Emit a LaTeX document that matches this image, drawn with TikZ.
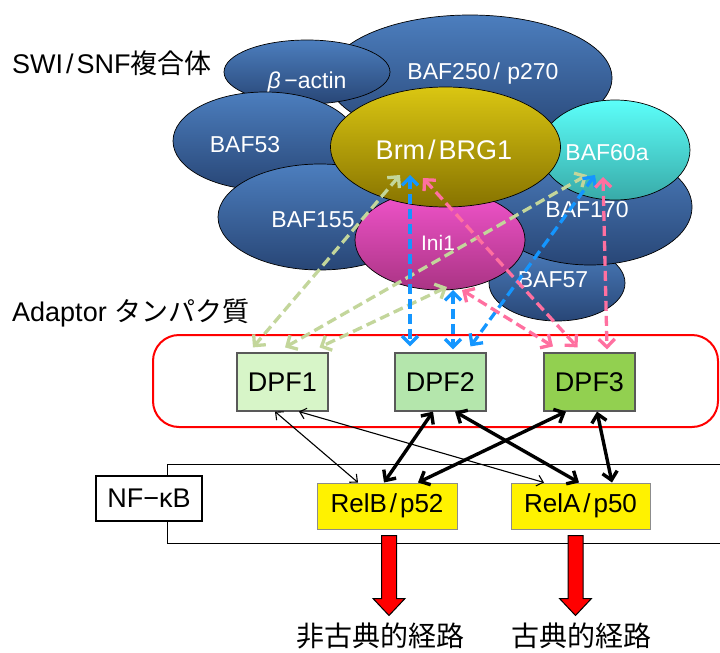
\documentclass[tikz,border=0pt]{standalone}
\usepackage{fontspec}
\setmainfont{Liberation Sans}
\newfontfamily\jpfont{Noto Sans CJK JP}
\usetikzlibrary{calc,arrows.meta,shapes.geometric}
\definecolor{bafTop}{RGB}{76,126,190}
\definecolor{bafBot}{RGB}{40,70,118}
\definecolor{brmTop}{RGB}{218,198,18}
\definecolor{brmBot}{RGB}{135,115,0}
\definecolor{iniTop}{RGB}{242,84,204}
\definecolor{iniBot}{RGB}{170,52,132}
\definecolor{cyanTop}{RGB}{92,255,250}
\definecolor{cyanBot}{RGB}{56,170,168}
\definecolor{dashGreen}{RGB}{195,214,155}
\definecolor{dashBlue}{RGB}{20,150,255}
\definecolor{dashPink}{RGB}{255,112,160}
\definecolor{dpfOne}{RGB}{215,245,200}
\definecolor{dpfTwo}{RGB}{180,230,172}
\definecolor{dpfThree}{RGB}{146,208,80}
\def\slashsp{\kern3pt/\kern3pt}
\tikzset{
	sub/.style={ellipse, draw=black, line width=0.7pt, inner sep=0pt, top color=bafTop, bottom color=bafBot},
	sublabel/.style={text=white, inner sep=0pt, font=\fontsize{23}{23}\selectfont},
	dpfbox/.style={draw=black!65, line width=1.2pt, minimum width=91pt, minimum height=58pt, inner sep=0pt, font=\fontsize{27}{27}\selectfont},
	relbox/.style={draw=black!45, line width=1pt, fill=yellow, minimum width=140pt, minimum height=46pt, inner sep=0pt, font=\fontsize{26}{26}\selectfont},
	bind/.style={dash pattern=on 10pt off 5pt, line width=3.3pt, {Straight Barb[length=8pt,width=16pt]}-{Straight Barb[length=8pt,width=16pt]}},
	thinarr/.style={line width=1.1pt, {Straight Barb[length=6pt,width=11pt]}-{Straight Barb[length=6pt,width=11pt]}},
	thickarr/.style={line width=3.4pt, {Straight Barb[length=8pt,width=15pt]}-{Straight Barb[length=8pt,width=15pt]}},
	blockarr/.style={draw=black, line width=1pt, fill=red},
}
\begin{document}
\begin{tikzpicture}[x=1pt, y=-1pt]
			%%%%% START %%%%%
			\fill[white] (0,0) rectangle (720,653);
			\useasboundingbox (0,0) rectangle (720,653);
			
			\node[anchor=west, inner sep=0pt, font=\fontsize{27}{27}\selectfont] (swisnf) at (12,63) {SWI\slashsp SNF{\jpfont 複合体}};
			\node[anchor=west, inner sep=0pt, font=\fontsize{27}{27}\selectfont] (adaptor) at (12,313) {Adaptor {\jpfont タンパク質}};
			
			\node[sub, minimum width=284pt, minimum height=126pt] (baf250) at (470,78) {};
			\node[sublabel] (baf250lbl) at (483,74) {BAF250\slashsp\kern-2pt\ p270};
			\node[sub, minimum width=166pt, minimum height=64pt] (bactin) at (307,72) {};
			\node[sublabel] (bactinlbl) at (307,83) {{\itshape β}\,−actin};
			\node[sub, minimum width=184pt, minimum height=98pt] (baf53) at (265,141) {};
			\node[sublabel] (baf53lbl) at (245,145) {BAF53};
			\node[sub, minimum width=204pt, minimum height=106pt] (baf155) at (320,217) {};
			\node[sublabel] (baf155lbl) at (313,220) {BAF155};
			\node[sub, minimum width=136pt, minimum height=76pt] (baf57) at (557,283) {};
			\node[sublabel] (baf57lbl) at (553,280) {BAF57};
			\node[sub, minimum width=204pt, minimum height=116pt] (baf170) at (590,207) {};
			\node[sublabel] (baf170lbl) at (587,210) {BAF170};
			\node[sub, top color=iniTop, bottom color=iniBot, minimum width=170pt, minimum height=100pt] (ini1) at (440,240) {};
			\node[sublabel, font=\fontsize{21}{21}\selectfont] (ini1lbl) at (438,243) {Ini1};
			\node[sub, top color=cyanTop, bottom color=cyanBot, minimum width=150pt, minimum height=100pt] (baf60a) at (615,150) {};
			\node[sublabel] (baf60albl) at (607,153) {BAF60a};
			\node[sub, top color=brmTop, bottom color=brmBot, minimum width=230pt, minimum height=120pt] (brm) at (445.5,147) {};
			\node[sublabel, font=\fontsize{27}{27}\selectfont] (brmlbl) at (444,150) {Brm\slashsp BRG1};
			
			\draw[red, line width=2pt, rounded corners=26pt] (153,335) rectangle (718,427);
			\node[dpfbox, fill=dpfOne] (dpf1) at (282.5,382) {DPF1};
			\node[dpfbox, fill=dpfTwo] (dpf2) at (440.5,382) {DPF2};
			\node[dpfbox, fill=dpfThree] (dpf3) at (589.5,382) {DPF3};
			
			\draw[line width=0.9pt] (167,464) rectangle (740,543);
			\node[draw=black, line width=2.6pt, fill=white, minimum width=106pt, minimum height=45pt, inner sep=0pt, font=\fontsize{27}{27}\selectfont] (nfkb) at (149,498.5) {NF−κB};
			\node[relbox] (relB) at (387,506) {RelB\slashsp p52};
			\node[relbox, minimum width=139pt] (relA) at (580.5,506) {RelA\slashsp p50};
			
			\draw[bind, dashGreen] ($(brm)+(-45.5,28)$) -- ($(dpf1.north)+(-29.5,-5)$);
			\draw[bind, dashGreen] ($(baf60a)+(-28,25)$) -- ($(dpf1.north)+(2.5,-5)$);
			\draw[bind, dashGreen] ($(ini1)+(7,47)$) -- ($(dpf1.north)+(37,-5)$);
			\draw[bind, dashBlue] ($(brm)+(-35.5,28)$) -- ($(dpf2.north)+(-30.5,-6)$);
			\draw[bind, dashBlue] ($(ini1)+(13,50)$) -- ($(dpf2.north)+(12.5,-3)$);
			\draw[bind, dashBlue] ($(baf60a)+(-20,25)$) -- ($(dpf2.north)+(30,-6)$);
			\draw[bind, dashPink] ($(brm)+(-22.5,31)$) -- ($(dpf3.north)+(-12,-5)$);
			\draw[bind, dashPink] ($(ini1)+(22,50)$) -- ($(dpf3.north)+(-36.5,-6)$);
			\draw[bind, dashPink] ($(baf60a)+(-12,27)$) -- ($(dpf3.north)+(17.5,-3)$);
			
			\draw[thinarr] ($(dpf1.south)+(-7.5,0)$) -- ($(relB.north)+(-29,0)$);
			\draw[thinarr] ($(dpf1.south)+(16.5,0)$) -- ($(relA.north)+(-36.5,0)$);
			\draw[thickarr] ($(dpf2.south)+(-7.5,0)$) -- ($(relB.north)+(-3,0)$);
			\draw[thickarr] ($(dpf2.south)+(14.5,0)$) -- ($(relA.north)+(-1.5,0)$);
			\draw[thickarr] ($(dpf3.south)+(-23.5,0)$) -- ($(relB.north)+(31,0)$);
			\draw[thickarr] ($(dpf3.south)+(7.5,0)$) -- ($(relA.north)+(31.5,0)$);
			
			\draw[blockarr] ($(relB.south)+(2,6)$) ++(-7.5,0) -- ++(15,0) -- ++(0,63) -- ++(8.5,0) -- ++(-16,17) -- ++(-16,-17) -- ++(8.5,0) -- cycle;
			\draw[blockarr] ($(relA.south)+(-5,6)$) ++(-7.5,0) -- ++(15,0) -- ++(0,63) -- ++(8.5,0) -- ++(-16,17) -- ++(-16,-17) -- ++(8.5,0) -- cycle;
			
			\node[inner sep=0pt, font=\jpfont\fontsize{28}{28}\selectfont] (noncanon) at (380,636) {非古典的経路};
			\node[inner sep=0pt, font=\jpfont\fontsize{28}{28}\selectfont] (canon) at (581.5,636) {古典的経路};
			%%%%% END %%%%%
\end{tikzpicture}
\end{document}
